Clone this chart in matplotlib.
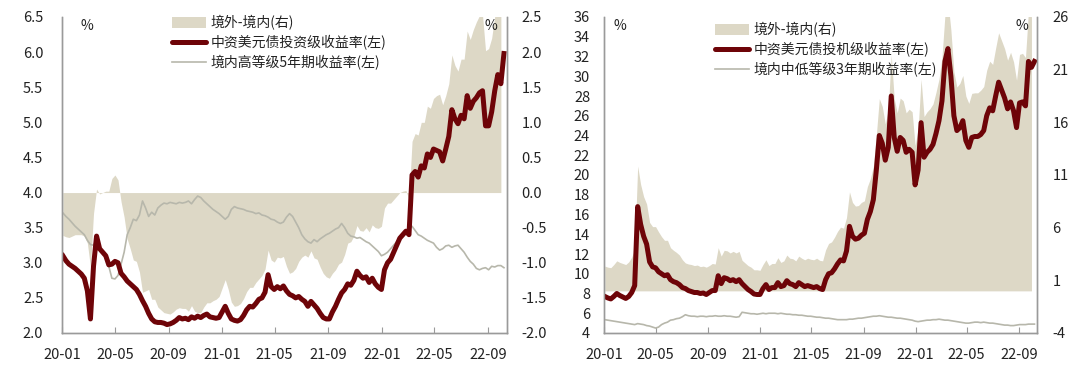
import pandas as pd
import matplotlib
matplotlib.use('Agg')
import matplotlib.pyplot as plt
import matplotlib.dates as mdates
from matplotlib.patches import Patch
from matplotlib.lines import Line2D

plt.rcParams['font.family'] = ['Noto Sans CJK SC', 'DejaVu Sans']

# weekly observations, 2020-01-03 .. 2022-10-07
dates = pd.date_range('2020-01-03', periods=145, freq='7D')

# left chart: investment grade
ig_usd = [3.10, 3.03, 2.98, 2.95, 2.92, 2.88, 2.84, 2.78, 2.60, 2.20,
          2.95, 3.38, 3.20, 3.15, 3.10, 2.97, 2.98, 3.02, 3.00, 2.85,
          2.80, 2.74, 2.70, 2.66, 2.62, 2.55, 2.46, 2.38, 2.28, 2.20,
          2.16, 2.15, 2.15, 2.14, 2.12, 2.13, 2.15, 2.18, 2.22, 2.20,
          2.21, 2.19, 2.23, 2.21, 2.24, 2.22, 2.25, 2.27, 2.23, 2.22,
          2.21, 2.22, 2.30, 2.38, 2.28, 2.20, 2.18, 2.17, 2.19, 2.25,
          2.33, 2.38, 2.37, 2.42, 2.48, 2.50, 2.58, 2.83, 2.66, 2.62,
          2.66, 2.63, 2.67, 2.60, 2.55, 2.53, 2.50, 2.52, 2.48, 2.45,
          2.38, 2.45, 2.40, 2.35, 2.28, 2.22, 2.20, 2.20, 2.30, 2.38,
          2.48, 2.57, 2.62, 2.70, 2.68, 2.75, 2.88, 2.82, 2.78, 2.80,
          2.72, 2.78, 2.70, 2.65, 2.62, 2.90, 3.00, 3.05, 3.15, 3.25,
          3.35, 3.40, 3.45, 3.40, 4.25, 4.30, 4.22, 4.38, 4.35, 4.55,
          4.50, 4.62, 4.60, 4.58, 4.45, 4.62, 4.80, 5.18, 5.05, 4.98,
          5.10, 5.05, 5.38, 5.20, 5.30, 5.35, 5.42, 5.45, 4.95, 4.95,
          5.15, 5.45, 5.68, 5.55, 5.98]
hg_5y = [3.71, 3.66, 3.62, 3.57, 3.52, 3.48, 3.44, 3.40, 3.32, 3.26,
         3.25, 3.33, 3.22, 3.15, 3.08, 2.95, 2.78, 2.77, 2.82, 2.98,
         3.15, 3.40, 3.50, 3.62, 3.60, 3.68, 3.88, 3.78, 3.66, 3.72,
         3.68, 3.78, 3.82, 3.85, 3.84, 3.86, 3.85, 3.84, 3.86, 3.85,
         3.86, 3.88, 3.84, 3.90, 3.95, 3.93, 3.88, 3.84, 3.80, 3.76,
         3.73, 3.70, 3.66, 3.62, 3.66, 3.76, 3.80, 3.78, 3.77, 3.76,
         3.74, 3.73, 3.72, 3.70, 3.71, 3.68, 3.67, 3.65, 3.62, 3.61,
         3.58, 3.56, 3.58, 3.65, 3.70, 3.66, 3.58, 3.50, 3.40, 3.34,
         3.30, 3.28, 3.33, 3.30, 3.34, 3.37, 3.40, 3.42, 3.45, 3.48,
         3.50, 3.56, 3.50, 3.42, 3.38, 3.37, 3.35, 3.36, 3.33, 3.30,
         3.28, 3.24, 3.20, 3.16, 3.10, 3.12, 3.15, 3.20, 3.25, 3.30,
         3.35, 3.38, 3.42, 3.50, 3.52, 3.46, 3.40, 3.38, 3.35, 3.32,
         3.30, 3.28, 3.22, 3.18, 3.20, 3.24, 3.25, 3.22, 3.24, 3.25,
         3.20, 3.15, 3.08, 3.02, 2.98, 2.92, 2.90, 2.92, 2.93, 2.90,
         2.95, 2.94, 2.96, 2.96, 2.93]

# right chart: high yield
hy_usd = [7.7, 7.55, 7.45, 7.7, 8.0, 7.8, 7.65, 7.5, 7.7, 8.1,
          8.8, 16.8, 15.0, 13.8, 13.0, 11.2, 10.7, 10.6, 10.2, 10.0,
          9.8, 9.9, 9.4, 9.2, 9.1, 8.9, 8.6, 8.5, 8.3, 8.2,
          8.1, 8.1, 8.0, 8.05, 7.9, 8.1, 8.3, 8.3, 9.8, 9.0,
          9.6, 9.5, 9.3, 9.4, 9.2, 9.4, 9.0, 8.7, 8.4, 8.2,
          7.95, 7.9, 7.9, 8.5, 8.9, 8.4, 8.6, 8.6, 9.1, 8.7,
          8.8, 9.3, 9.0, 8.9, 8.7, 9.1, 8.9, 8.7, 8.8, 8.7,
          8.6, 8.7, 8.5, 8.4, 9.4, 10.0, 10.1, 10.5, 11.0, 11.4,
          11.3, 12.3, 14.8, 13.8, 13.5, 13.6, 13.9, 14.1, 15.5, 16.3,
          17.5, 20.5, 24.0, 23.2, 21.5, 22.8, 28.0, 23.8, 22.4, 23.8,
          23.5, 22.3, 22.6, 22.3, 19.0, 20.5, 25.3, 21.8, 22.3, 22.6,
          23.1, 24.2, 25.5, 27.5, 31.5, 32.8, 30.0, 26.0, 24.5, 24.8,
          25.5, 23.5, 22.8, 23.8, 23.9, 23.9, 24.1, 24.5, 26.0, 26.8,
          26.5, 28.0, 29.4, 28.6, 27.8, 26.7, 27.4, 26.5, 24.8, 27.3,
          27.4, 27.0, 31.5, 30.9, 31.5]
mlg_3y = [5.35, 5.3, 5.25, 5.2, 5.15, 5.1, 5.05, 5.0, 4.95, 4.9,
          4.85, 4.95, 4.9, 4.85, 4.75, 4.7, 4.6, 4.5, 4.6, 4.85,
          5.0, 5.1, 5.3, 5.35, 5.45, 5.5, 5.65, 5.85, 5.75, 5.7,
          5.7, 5.65, 5.7, 5.7, 5.65, 5.7, 5.7, 5.75, 5.7, 5.7,
          5.75, 5.7, 5.7, 5.65, 5.6, 5.65, 6.1, 6.05, 6.0, 5.95,
          5.95, 5.9, 5.95, 6.0, 5.95, 6.0, 6.0, 6.0, 5.95, 6.0,
          5.95, 5.9, 5.9, 5.85, 5.85, 5.8, 5.8, 5.75, 5.7, 5.7,
          5.65, 5.6, 5.6, 5.55, 5.5, 5.5, 5.45, 5.4, 5.35, 5.35,
          5.35, 5.35, 5.4, 5.4, 5.45, 5.5, 5.5, 5.55, 5.6, 5.65,
          5.7, 5.7, 5.75, 5.7, 5.65, 5.6, 5.6, 5.55, 5.5, 5.5,
          5.45, 5.4, 5.35, 5.3, 5.2, 5.15, 5.2, 5.25, 5.3, 5.3,
          5.35, 5.35, 5.4, 5.35, 5.3, 5.3, 5.25, 5.2, 5.15, 5.1,
          5.05, 5.0, 5.0, 5.05, 5.1, 5.1, 5.05, 5.1, 5.05, 5.0,
          5.0, 4.95, 4.9, 4.85, 4.8, 4.8, 4.75, 4.75, 4.8, 4.85,
          4.85, 4.85, 4.9, 4.9, 4.9]

month_ticks = ['2020-01', '2020-05', '2020-09', '2021-01', '2021-05',
               '2021-09', '2022-01', '2022-05', '2022-09']

RED = '#6e0408'
FILL = '#ddd8c6'
GRAY = '#b7b7ab'
SPINE = '#9a9a9a'
TXT = '#222222'


def draw(fig, rect, end, usd, onshore, ylim_l, yt_l, ylim_r, yt_r, fmt,
         labels, leg_xy, pads, pct_x):
    ax = fig.add_axes(rect)
    ax2 = ax.twinx()
    spread = [a - b for a, b in zip(usd, onshore)]
    ax2.fill_between(dates[:-1], 0, spread[:-1], color=FILL, lw=0)
    ax.plot(dates, onshore, color=GRAY, lw=1.2)
    ax.plot(dates, usd, color=RED, lw=3.6)
    ax.set_zorder(ax2.get_zorder() + 1)
    ax.patch.set_visible(False)

    ax.set_xlim(pd.Timestamp('2020-01-01'), pd.Timestamp(end))
    ax.set_ylim(*ylim_l)
    ax.set_yticks(yt_l)
    ax.set_yticklabels([fmt(v) for v in yt_l])
    ax2.set_ylim(*ylim_r)
    ax2.set_yticks(yt_r)
    ax2.set_yticklabels([fmt(v) for v in yt_r])
    ax.set_xticks([pd.Timestamp(m) for m in month_ticks])
    ax.xaxis.set_major_formatter(mdates.DateFormatter('%y-%m'))

    for a in (ax, ax2):
        a.spines['top'].set_visible(False)
        for s in ('left', 'right', 'bottom'):
            a.spines[s].set_color(SPINE)
            a.spines[s].set_linewidth(1.0)
    ax.tick_params(axis='y', length=0, pad=pads[0], labelsize=10.5, labelcolor=TXT)
    ax2.tick_params(axis='y', length=0, pad=pads[1], labelsize=10.5, labelcolor=TXT)
    ax.tick_params(axis='x', direction='in', length=4, color=SPINE, pad=11,
                   labelsize=10.5, labelcolor=TXT)

    ax.text(pct_x[0], 0.995, '%', transform=ax.transAxes, fontsize=10,
            va='top', ha='center', color=TXT)
    ax.text(pct_x[1], 0.995, '%', transform=ax.transAxes, fontsize=10,
            va='top', ha='center', color=TXT)

    handles = [Patch(facecolor=FILL, edgecolor='none'),
               Line2D([], [], color=RED, lw=3.6, solid_capstyle='round'),
               Line2D([], [], color=GRAY, lw=1.2)]
    ax.legend(handles, labels, loc='upper left', bbox_to_anchor=leg_xy,
              bbox_transform=fig.transFigure, frameon=False, fontsize=10,
              handlelength=2.5, handleheight=0.8, handletextpad=0.3,
              labelspacing=0.33, borderaxespad=0, labelcolor=TXT)
    return ax


fig = plt.figure(figsize=(10.8, 3.65), dpi=100)

draw(fig, [62 / 1080, 32 / 365, 445 / 1080, 316 / 365], '2022-10-14',
     ig_usd, hg_5y,
     (2.0, 6.5), [2.0, 2.5, 3.0, 3.5, 4.0, 4.5, 5.0, 5.5, 6.0, 6.5],
     (-2.0, 2.5), [-2.0, -1.5, -1.0, -0.5, 0.0, 0.5, 1.0, 1.5, 2.0, 2.5],
     lambda v: f'{v:.1f}',
     ['境外-境内(右)', '中资美元债投资级收益率(左)', '境内高等级5年期收益率(左)'],
     (166 / 1080, 355 / 365), (13.5, 10.5), (0.057, 0.963))

draw(fig, [604 / 1080, 32 / 365, 433 / 1080, 316 / 365], '2022-10-13',
     hy_usd, mlg_3y,
     (4, 36), list(range(4, 37, 2)),
     (-4, 26), [-4, 1, 6, 11, 16, 21, 26],
     lambda v: f'{v:.0f}',
     ['境外-境内(右)', '中资美元债投机级收益率(左)', '境内中低等级3年期收益率(左)'],
     (709 / 1080, 348 / 365), (10, 11), (0.037, 0.965))

fig.savefig('out.png', dpi=100)
